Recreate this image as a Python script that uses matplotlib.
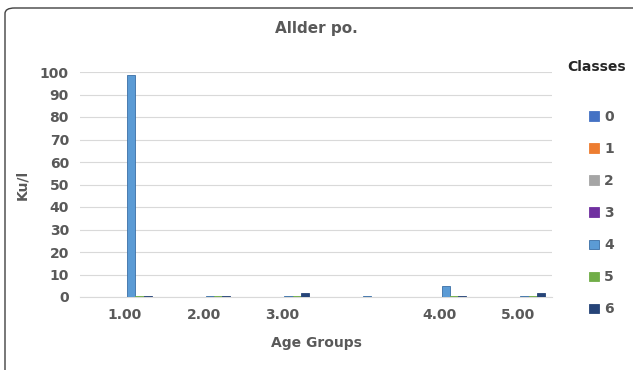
import numpy as np
import matplotlib
matplotlib.use("Agg")
import matplotlib.pyplot as plt
from matplotlib.patches import FancyBboxPatch

# data
groups = ["1.00", "2.00", "3.00", "", "4.00", "5.00"]
classes = ["0", "1", "2", "3", "4", "5", "6"]
class0 = [0, 0, 0, 0, 0, 0]
class1 = [0, 0, 0, 0, 0, 0]
class2 = [0, 0, 0, 0, 0, 0]
class3 = [0, 0, 0, 0, 0, 0]
class4 = [98.5, 0.4, 0.4, 0.6, 5.0, 0.4]
class5 = [0.4, 0.4, 0.4, 0, 0.5, 0.4]
class6 = [0.6, 0.6, 1.6, 0, 0.4, 1.6]
colors = ["#4472C4", "#ED7D31", "#A5A5A5", "#7030A0", "#5B9BD5", "#70AD47", "#264478"]

series = [class0, class1, class2, class3, class4, class5, class6]

fig = plt.figure(figsize=(6.33, 3.70), dpi=100)
ax = fig.add_axes([80 / 633, 1 - 297 / 370, 472 / 633, 225 / 370])

x = np.arange(len(groups))
w = 0.105
for i, vals in enumerate(series):
    ax.bar(x + (i - 4) * w + 0.08, vals, width=w, color=colors[i],
           edgecolor="#3a6ea5" if i == 4 else colors[i], linewidth=0.6,
           label=classes[i], zorder=3)

ax.set_ylim(0, 100)
ax.set_xlim(-0.57, 5.43)
ax.set_yticks(range(0, 101, 10))
ax.set_xticks(x)
ax.set_xticklabels(groups)
ax.grid(axis="y", color="#d9d9d9", linewidth=0.8, zorder=0)
for s in ["top", "right", "left"]:
    ax.spines[s].set_visible(False)
ax.spines["bottom"].set_color("#d9d9d9")
ax.tick_params(length=0, labelsize=10, colors="#595959", pad=8)
for t in ax.get_xticklabels():
    t.set_fontweight("bold")
for t in ax.get_yticklabels():
    t.set_fontweight("bold")

ax.set_ylabel("Ku/l", fontsize=10, fontweight="bold", color="#595959", labelpad=8)
ax.set_xlabel("Age Groups", fontsize=10, fontweight="bold", color="#595959", labelpad=10)
fig.text(0.5, 1 - 28 / 370, "Allder po.", ha="center", va="center", fontsize=11,
         fontweight="bold", color="#595959")

fig.text(567 / 633, 1 - 67 / 370, "Classes", ha="left", va="center", fontsize=10,
         fontweight="bold", color="#262626")
leg = fig.legend(*ax.get_legend_handles_labels(), loc="upper left",
                 bbox_to_anchor=(589 / 633, 1 - 110 / 370), frameon=False,
                 fontsize=10, handlelength=0.7, handleheight=0.7, labelspacing=1.3,
                 handletextpad=0.4, borderpad=0, borderaxespad=0)
for t in leg.get_texts():
    t.set_color("#595959")
    t.set_fontweight("bold")

border = FancyBboxPatch((5 / 633, -0.2), 1.2, 1.2 - 8 / 370,
                        boxstyle="round,pad=0,rounding_size=0.015",
                        transform=fig.transFigure, fill=False, edgecolor="#404040",
                        linewidth=1.0, clip_on=False)
fig.patches.append(border)

fig.savefig("out.png", dpi=100)
